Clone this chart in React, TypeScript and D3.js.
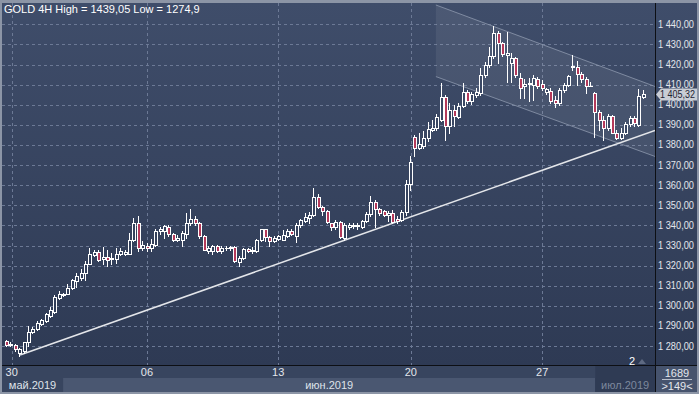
import React from "react";
import * as d3 from "d3";

// ---- data (GOLD 4H) ----
const OPEN = [
  1282.6, 1280.6, 1280.6, 1276.8, 1277.5, 1282.0, 1287.0, 1288.4, 1290.9, 1292.5,
  1295.0, 1297.0, 1304.0, 1305.6, 1306.0, 1309.0, 1312.3, 1314.0, 1316.2, 1321.0,
  1325.2, 1327.0, 1323.4, 1324.4, 1323.4, 1323.4, 1325.6, 1326.0, 1326.0, 1333.0,
  1341.0, 1328.9, 1330.0, 1328.9, 1330.5, 1337.1, 1337.1, 1339.3, 1335.5, 1333.0,
  1333.0, 1335.5, 1341.3, 1343.3, 1341.0, 1334.7, 1327.2, 1327.2, 1329.7, 1327.2,
  1328.8, 1328.7, 1329.4, 1321.8, 1323.9, 1328.4, 1327.2, 1327.2, 1332.7, 1338.0,
  1334.2, 1332.2, 1333.3, 1333.0, 1334.7, 1337.1, 1334.7, 1340.0, 1342.1, 1343.8,
  1345.4, 1354.2, 1349.2, 1347.0, 1341.0, 1339.3, 1341.6, 1333.8, 1339.3, 1339.9,
  1339.9, 1339.3, 1342.1, 1345.9, 1351.5, 1348.2, 1347.0, 1345.0, 1346.2, 1343.3,
  1342.6, 1346.6, 1360.8, 1384.2, 1378.5, 1379.3, 1383.4, 1387.6, 1388.4, 1392.5,
  1403.8, 1389.2, 1397.2, 1393.9, 1399.5, 1406.1, 1402.1, 1405.0, 1405.8, 1414.8,
  1419.8, 1424.0, 1435.8, 1430.9, 1424.9, 1421.0, 1423.1, 1413.2, 1409.1, 1410.4,
  1409.9, 1412.7, 1410.4, 1406.1, 1406.6, 1402.4, 1400.8, 1407.4, 1409.9, 1418.8,
  1419.0, 1415.3, 1412.7, 1409.3, 1405.8, 1396.2, 1392.2, 1388.4, 1394.5, 1386.2,
  1383.4, 1386.2, 1390.5, 1393.3, 1390.0, 1403.8,
];
const CLOSE = [
  1280.5, 1281.0, 1278.5, 1278.5, 1281.8, 1287.0, 1288.7, 1291.4, 1293.0, 1295.8,
  1298.0, 1304.6, 1305.7, 1305.8, 1309.0, 1312.8, 1314.8, 1316.2, 1321.0, 1325.6,
  1327.0, 1323.0, 1324.4, 1323.0, 1323.6, 1325.6, 1327.2, 1327.0, 1333.0, 1341.0,
  1329.0, 1330.5, 1328.7, 1331.0, 1337.1, 1338.0, 1339.6, 1335.5, 1333.0, 1333.8,
  1336.3, 1341.3, 1343.3, 1341.0, 1334.7, 1328.0, 1328.9, 1330.0, 1327.2, 1328.9,
  1329.0, 1329.4, 1322.3, 1323.9, 1328.4, 1327.2, 1328.0, 1332.7, 1338.0, 1334.2,
  1332.5, 1333.8, 1334.7, 1335.0, 1337.1, 1335.5, 1340.0, 1342.6, 1344.1, 1345.4,
  1354.2, 1349.2, 1347.0, 1341.6, 1339.3, 1341.6, 1334.3, 1340.4, 1340.4, 1340.1,
  1340.1, 1342.1, 1345.9, 1351.5, 1348.2, 1346.2, 1345.4, 1346.2, 1341.6, 1342.0,
  1346.6, 1360.8, 1371.4, 1378.5, 1380.6, 1383.4, 1387.9, 1388.4, 1393.9, 1403.8,
  1389.6, 1397.2, 1394.2, 1399.5, 1406.1, 1402.1, 1405.4, 1406.1, 1414.8, 1419.8,
  1424.0, 1435.8, 1430.9, 1425.3, 1425.6, 1423.1, 1414.8, 1408.2, 1410.4, 1411.0,
  1413.2, 1409.1, 1408.2, 1407.7, 1402.1, 1400.8, 1407.4, 1409.9, 1414.4, 1419.2,
  1415.3, 1412.7, 1409.4, 1409.5, 1396.2, 1392.2, 1388.4, 1394.5, 1386.2, 1383.4,
  1386.2, 1390.5, 1393.3, 1390.9, 1404.4, 1405.32,
];
const HIGH = [
  1283.2, 1281.8, 1281.0, 1279.2, 1282.1, 1290.0, 1289.7, 1292.5, 1293.7, 1296.6,
  1299.6, 1305.2, 1307.4, 1306.5, 1310.7, 1313.5, 1316.2, 1318.5, 1322.3, 1328.9,
  1327.7, 1328.0, 1329.4, 1327.7, 1326.4, 1328.9, 1328.9, 1328.0, 1336.3, 1343.8,
  1344.5, 1332.2, 1331.5, 1333.3, 1338.0, 1339.3, 1340.4, 1340.0, 1336.3, 1335.0,
  1337.1, 1346.2, 1348.2, 1344.6, 1341.6, 1335.0, 1329.7, 1330.5, 1330.5, 1330.0,
  1330.0, 1330.0, 1330.0, 1324.7, 1328.9, 1328.9, 1329.4, 1333.3, 1338.3, 1338.3,
  1334.7, 1334.7, 1335.0, 1337.6, 1338.0, 1338.0, 1341.0, 1343.3, 1346.2, 1346.6,
  1358.6, 1355.8, 1349.9, 1347.6, 1341.3, 1342.9, 1342.1, 1341.3, 1341.0, 1341.3,
  1341.0, 1342.9, 1346.6, 1354.5, 1352.8, 1348.7, 1347.9, 1347.0, 1347.9, 1344.6,
  1347.6, 1362.8, 1374.7, 1385.1, 1385.9, 1386.7, 1391.2, 1392.5, 1395.5, 1411.0,
  1404.9, 1400.8, 1400.0, 1401.1, 1411.0, 1407.1, 1406.1, 1408.2, 1418.2, 1421.5,
  1428.9, 1439.05, 1436.8, 1431.4, 1436.3, 1425.6, 1423.6, 1415.7, 1412.7, 1413.2,
  1414.8, 1413.7, 1412.4, 1408.2, 1408.2, 1404.4, 1408.2, 1410.7, 1414.8, 1424.8,
  1422.0, 1416.5, 1413.7, 1411.5, 1406.1, 1397.5, 1394.2, 1395.5, 1395.0, 1387.6,
  1388.4, 1391.2, 1394.2, 1394.2, 1407.7, 1407.1,
];
const LOW = [
  1280.0, 1280.2, 1277.6, 1274.9, 1276.8, 1280.1, 1286.7, 1288.0, 1290.4, 1292.0,
  1294.7, 1296.6, 1303.6, 1305.0, 1305.7, 1308.6, 1309.5, 1313.0, 1312.8, 1320.6,
  1324.7, 1322.3, 1320.6, 1319.8, 1320.6, 1321.4, 1325.1, 1325.5, 1325.6, 1332.2,
  1327.2, 1327.7, 1327.5, 1327.2, 1330.0, 1335.5, 1333.8, 1334.7, 1332.2, 1332.2,
  1330.0, 1333.8, 1340.4, 1340.0, 1333.8, 1327.7, 1326.1, 1325.6, 1326.7, 1326.1,
  1328.0, 1328.0, 1321.8, 1319.8, 1323.4, 1326.7, 1326.4, 1326.7, 1332.2, 1332.2,
  1330.0, 1331.7, 1332.7, 1332.7, 1334.3, 1335.0, 1331.7, 1339.3, 1341.6, 1341.3,
  1344.9, 1348.7, 1345.4, 1341.0, 1337.6, 1338.0, 1333.8, 1333.0, 1338.0, 1338.8,
  1338.3, 1338.8, 1341.6, 1344.6, 1339.3, 1345.4, 1344.6, 1342.1, 1341.3, 1341.3,
  1342.1, 1345.4, 1357.8, 1374.7, 1378.0, 1378.5, 1381.8, 1386.7, 1387.6, 1391.7,
  1382.3, 1385.9, 1389.6, 1393.4, 1398.8, 1401.1, 1400.5, 1403.8, 1405.0, 1413.7,
  1419.0, 1423.1, 1420.6, 1424.3, 1411.5, 1411.5, 1414.0, 1403.3, 1403.3, 1402.0,
  1402.5, 1408.2, 1407.4, 1405.4, 1401.1, 1398.8, 1400.0, 1406.1, 1409.1, 1417.3,
  1409.9, 1411.5, 1405.8, 1409.1, 1383.9, 1387.6, 1382.3, 1387.6, 1385.9, 1382.9,
  1382.9, 1385.6, 1389.6, 1389.6, 1389.6, 1403.3,
];

const DAY_TICK_IDX = [1.3, 32.1, 62, 92.2, 122.1];
const DAY_TICK_LABELS = ["30", "06", "13", "20", "27"];
const MONTH_START_IDX = [-1.5, 13, 134.2, 148];
const MONTH_LABELS = ["май.2019", "июн.2019", "июл.2019"];
const PRICE_TICKS = d3.range(1280, 1441, 10);
const TREND = [[3.2, 1275.6], [147.8, 1387.2]];
const CH_UPPER = [[97.9, 1449.6], [147.8, 1409.1]];
const CH_LOWER = [[97.9, 1414.0], [147.8, 1374.3]];
const TITLE = "GOLD 4H  High = 1439,05  Low = 1274,9";
const LAST_PRICE = 1405.32;

const W = 699, H = 394;
const PL = 2, PR = 655, PT = 3, PB = 365;
const FONT = "'Liberation Sans', Arial, sans-serif";

const ruLocale = d3.formatLocale({ decimal: ",", thousands: "\u00a0", grouping: [3], currency: ["", ""] });
const fmt = ruLocale.format(",.2f");

export default function App() {
  const x = d3.scaleLinear().domain([0, OPEN.length - 1]).range([6, 642.7]);
  const y = d3.scaleLinear().domain([1280, 1440]).range([346.1, 24.3]);
  const line = d3.line<number[]>().x((d) => x(d[0])).y((d) => y(d[1]));

  const candles = OPEN.map((o, i) => {
    const c = CLOSE[i];
    const n = Math.round(x(i)) - 1;
    const top = Math.round(y(Math.max(o, c)));
    const bot = Math.round(y(Math.min(o, c)));
    const hTop = Math.round(y(HIGH[i]));
    const hBot = Math.round(y(LOW[i]));
    const bear = c < o;
    const oh = Math.max(1, bot - top + 1);
    return (
      <g key={i}>
        <rect x={n + 1} y={hTop} width={1} height={hBot - hTop + 1} fill="#ffffff" />
        <rect x={n} y={top} width={4} height={oh} fill="#ffffff" />
        {oh > 2 && (
          <rect x={n + 1} y={top + 1} width={2} height={oh - 2} fill={bear ? "#b4395a" : "url(#bgGrad)"} />
        )}
      </g>
    );
  });

  const chPoly = [
    [x(CH_UPPER[0][0]), y(CH_UPPER[0][1])],
    [x(CH_UPPER[1][0]), y(CH_UPPER[1][1])],
    [x(CH_LOWER[1][0]), y(CH_LOWER[1][1])],
    [x(CH_LOWER[0][0]), y(CH_LOWER[0][1])],
  ].map((p) => p.join(",")).join(" ");

  const ly = Math.round(y(LAST_PRICE)) + 0.5;

  return (
    <svg width={W} height={H} style={{ position: "absolute", left: 0, top: 0 }} fontFamily={FONT}>
      <defs>
        <linearGradient id="bgGrad" gradientUnits="userSpaceOnUse" x1="0" y1={PT} x2="0" y2={PB}>
          <stop offset="0" stopColor="#3f4d6a" />
          <stop offset="1" stopColor="#2e3a54" />
        </linearGradient>
        <clipPath id="plotClip">
          <rect x={PL} y={PT} width={PR - PL} height={PB - PT} />
        </clipPath>
      </defs>
      {/* frame */}
      <rect x={0} y={0} width={W} height={H} fill="#8c95a6" />
      <rect x={PL} y={PT} width={W - PL - 2} height={H - PT - 2} fill="url(#bgGrad)" />

      {/* grid */}
      <g stroke="#6c7995" strokeDasharray="3,3" strokeWidth={1}>
        {PRICE_TICKS.map((p) => (
          <line key={p} x1={PL} x2={PR} y1={Math.round(y(p)) + 0.5} y2={Math.round(y(p)) + 0.5} />
        ))}
        {DAY_TICK_IDX.map((d, i) => (
          <line key={i} x1={Math.round(x(d)) + 0.5} x2={Math.round(x(d)) + 0.5} y1={PT} y2={PB} />
        ))}
      </g>

      <g clipPath="url(#plotClip)">
        {/* channel */}
        <polygon points={chPoly} fill="#ffffff" fillOpacity={0.07} />
        <path d={line(CH_UPPER) || ""} stroke="#8d98ae" strokeOpacity={0.8} fill="none" strokeWidth={1} />
        <path d={line(CH_LOWER) || ""} stroke="#8d98ae" strokeOpacity={0.8} fill="none" strokeWidth={1} />
        {/* trend */}
        <path d={line(TREND) || ""} stroke="#e4e6ea" fill="none" strokeWidth={1.6} />
        {candles}
      </g>

      {/* title */}
      <text x={4} y={13} fontSize={11} fill="#ffffff">{TITLE}</text>

      {/* price axis */}
      <g fontSize={10} fill="#e3e6ec">
        {PRICE_TICKS.map((p) => (
          <text key={p} x={658} y={y(p)} dy="0.35em" textLength={36} lengthAdjust="spacingAndGlyphs">{fmt(p)}</text>
        ))}
      </g>
      <polygon
        points={`656,${ly} 661,${ly - 6} 697,${ly - 6} 697,${ly + 6} 661,${ly + 6}`}
        fill="#c9cdd5"
      />
      <text x={660} y={ly} dy="0.35em" fontSize={10} fill="#1e2433" textLength={35} lengthAdjust="spacingAndGlyphs">
        {fmt(LAST_PRICE)}
      </text>

      {/* bottom area */}
      <rect x={PL} y={PB + 1} width={PR - PL} height={12} fill="#38455f" />
      {MONTH_LABELS.map((m, i) => {
        const x0 = Math.max(PL, x(MONTH_START_IDX[i]));
        const x1 = Math.min(PR, x(MONTH_START_IDX[i + 1]));
        const fill = i === 0 ? "#38455f" : i === 1 ? "#4a5771" : "#2f3b54";
        const isLast = i === MONTH_LABELS.length - 1;
        return (
          <g key={m}>
            <rect x={x0} y={isLast ? PB + 1 : 378} width={x1 - x0} height={isLast ? 26 : 14} fill={fill} />
            <text x={(x0 + x1) / 2} y={385} dy="0.35em" fontSize={11} textAnchor="middle"
              fill={isLast ? "#7d889d" : "#dfe3ea"}>{m}</text>
          </g>
        );
      })}
      {DAY_TICK_IDX.map((d, i) => (
        <text key={i} x={x(d)} y={372} dy="0.35em" fontSize={11} textAnchor="middle" fill="#e3e6ec">
          {DAY_TICK_LABELS[i]}
        </text>
      ))}
      <rect x={PR + 1} y={PB + 1} width={W - PR - 3} height={26} fill="#46536d" />
      <text x={677} y={373} dy="0.35em" fontSize={11} textAnchor="middle" fill="#e3e6ec">1689</text>
      <line x1={662} x2={692} y1={379.5} y2={379.5} stroke="#b9c0cc" />
      <text x={677} y={386} dy="0.35em" fontSize={11} textAnchor="middle" fill="#e3e6ec">&gt;149&lt;</text>

      {/* small marker */}
      <text x={632} y={361} dy="0.35em" fontSize={11} textAnchor="middle" fill="#ffffff">2</text>
      <path d="M638,364 L642,359 L646,364 Z" fill="#5e6a82" />

      {/* axis separators */}
      <line x1={PR + 0.5} x2={PR + 0.5} y1={PT} y2={H - 2} stroke="#0d0f14" />
      <line x1={PL} x2={W - 2} y1={PB + 0.5} y2={PB + 0.5} stroke="#0d0f14" />
    </svg>
  );
}
